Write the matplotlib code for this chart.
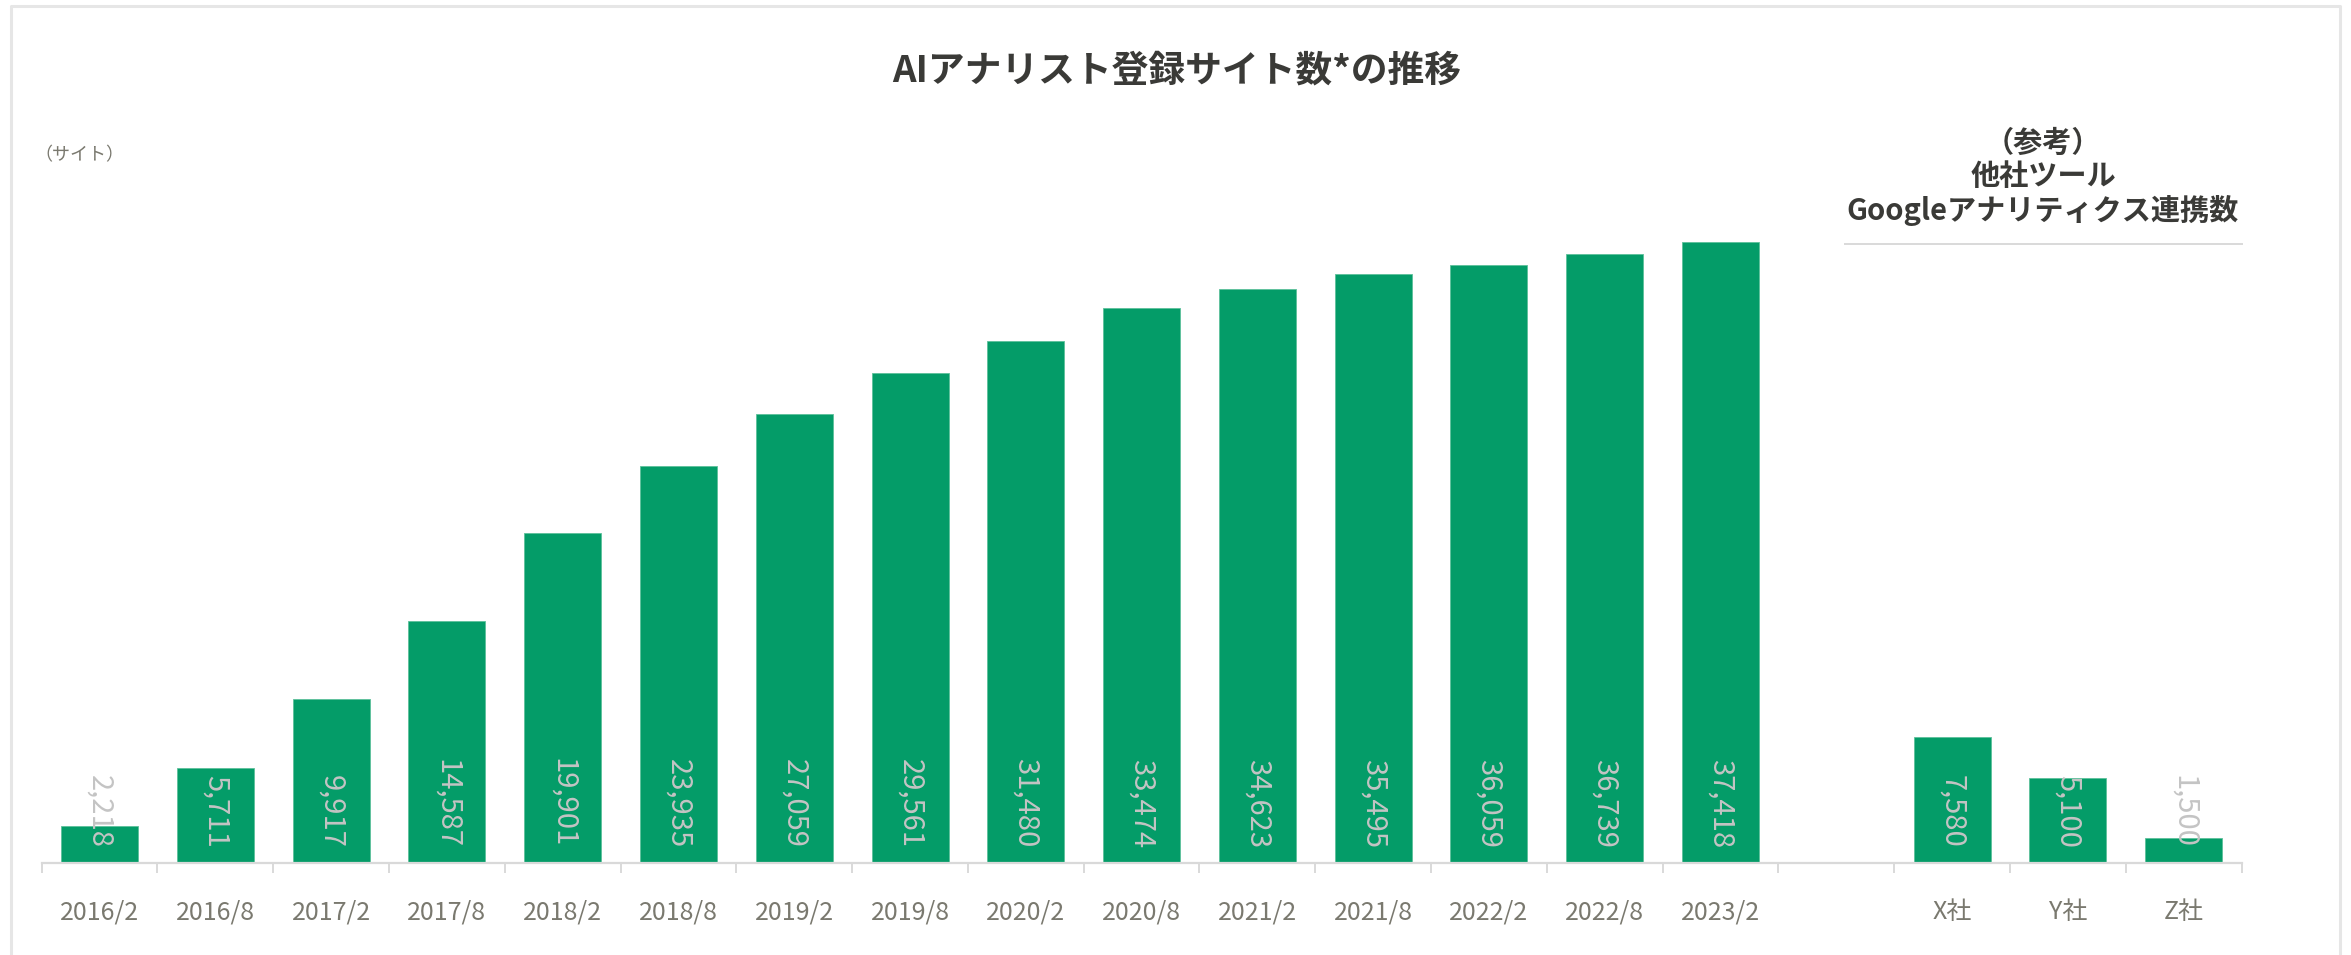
import matplotlib.pyplot as plt
from matplotlib.lines import Line2D

plt.rcParams['font.family'] = ['Noto Sans CJK JP', 'DejaVu Sans']

# registered sites (half-yearly)
periods = ['2016/2', '2016/8', '2017/2', '2017/8', '2018/2', '2018/8', '2019/2', '2019/8',
           '2020/2', '2020/8', '2021/2', '2021/8', '2022/2', '2022/8', '2023/2']
sites = [2218, 5711, 9917, 14587, 19901, 23935, 27059, 29561,
         31480, 33474, 34623, 35495, 36059, 36739, 37418]

# other tools, Google Analytics integrations
companies = ['X社', 'Y社', 'Z社']
links = [7580, 5100, 1500]

# one empty slot separates the two groups
labels = periods + [''] + companies
values = sites + [None] + links

GREEN = '#049c68'
LABEL_GRAY = '#c4c4c4'
TICK_GRAY = '#7a796f'
LINE_GRAY = '#d9d9d9'
DARK = '#3a3a37'
YMAX = 46000

W, H = 2351, 955
fig = plt.figure(figsize=(W / 100, H / 100), dpi=100)

bottom = (H - 863) / H
top = (H - 100) / H
x0, x1 = 41.7 / W, 2241.5 / W
ax = fig.add_axes([x0, bottom, x1 - x0, top - bottom])

n = len(labels)
ax.set_xlim(-0.5, n - 0.5)
ax.set_ylim(0, YMAX)
for s in ['top', 'right', 'left']:
    ax.spines[s].set_visible(False)
ax.spines['bottom'].set_color(LINE_GRAY)
ax.spines['bottom'].set_linewidth(1.6)
ax.set_yticks([])
ax.set_xticks(range(n))
ax.set_xticklabels(labels, fontsize=18, color=TICK_GRAY)
ax.tick_params(axis='x', which='major', length=0, pad=26)
ax.set_xticks([i - 0.5 for i in range(n + 1)], minor=True)
ax.tick_params(axis='x', which='minor', length=7, width=1.4, color=LINE_GRAY)
ax.patch.set_visible(False)

for i, v in enumerate(values):
    if v is None:
        continue
    ax.bar(i, v, width=0.665, color=GREEN, edgecolor='#5cc09a', linewidth=0.6)
    ax.annotate(f'{v:,}', xy=(i, 0), xytext=(0, 11), textcoords='offset points',
                rotation=270, ha='center', va='bottom', fontsize=21, color=LABEL_GRAY)

# titles and notes
fig.text(1177 / W, 1 - 71 / H, 'AIアナリスト登録サイト数*の推移', ha='center', va='center',
         fontsize=26.5, fontweight='bold', color=DARK)
fig.text(79 / W, 1 - 155 / H, '（サイト）', ha='center', va='center', fontsize=13,
         color=TICK_GRAY)
for txt, y in [('（参考）', 143), ('他社ツール', 176), ('Googleアナリティクス連携数', 210)]:
    fig.text(2043 / W, 1 - y / H, txt, ha='center', va='center',
             fontsize=21, fontweight='bold', color=DARK)
fig.add_artist(Line2D([1845 / W, 2242 / W], [1 - 244 / H, 1 - 244 / H],
                      color=LINE_GRAY, linewidth=1.4, transform=fig.transFigure))

# outer frame (left, top, right)
fc = '#e6e6e6'
fig.add_artist(Line2D([11 / W, 11 / W, 2339.5 / W, 2339.5 / W],
                      [0, 1 - 6 / H, 1 - 6 / H, 0],
                      color=fc, linewidth=2.2, transform=fig.transFigure))

fig.savefig('out.png', dpi=100)
